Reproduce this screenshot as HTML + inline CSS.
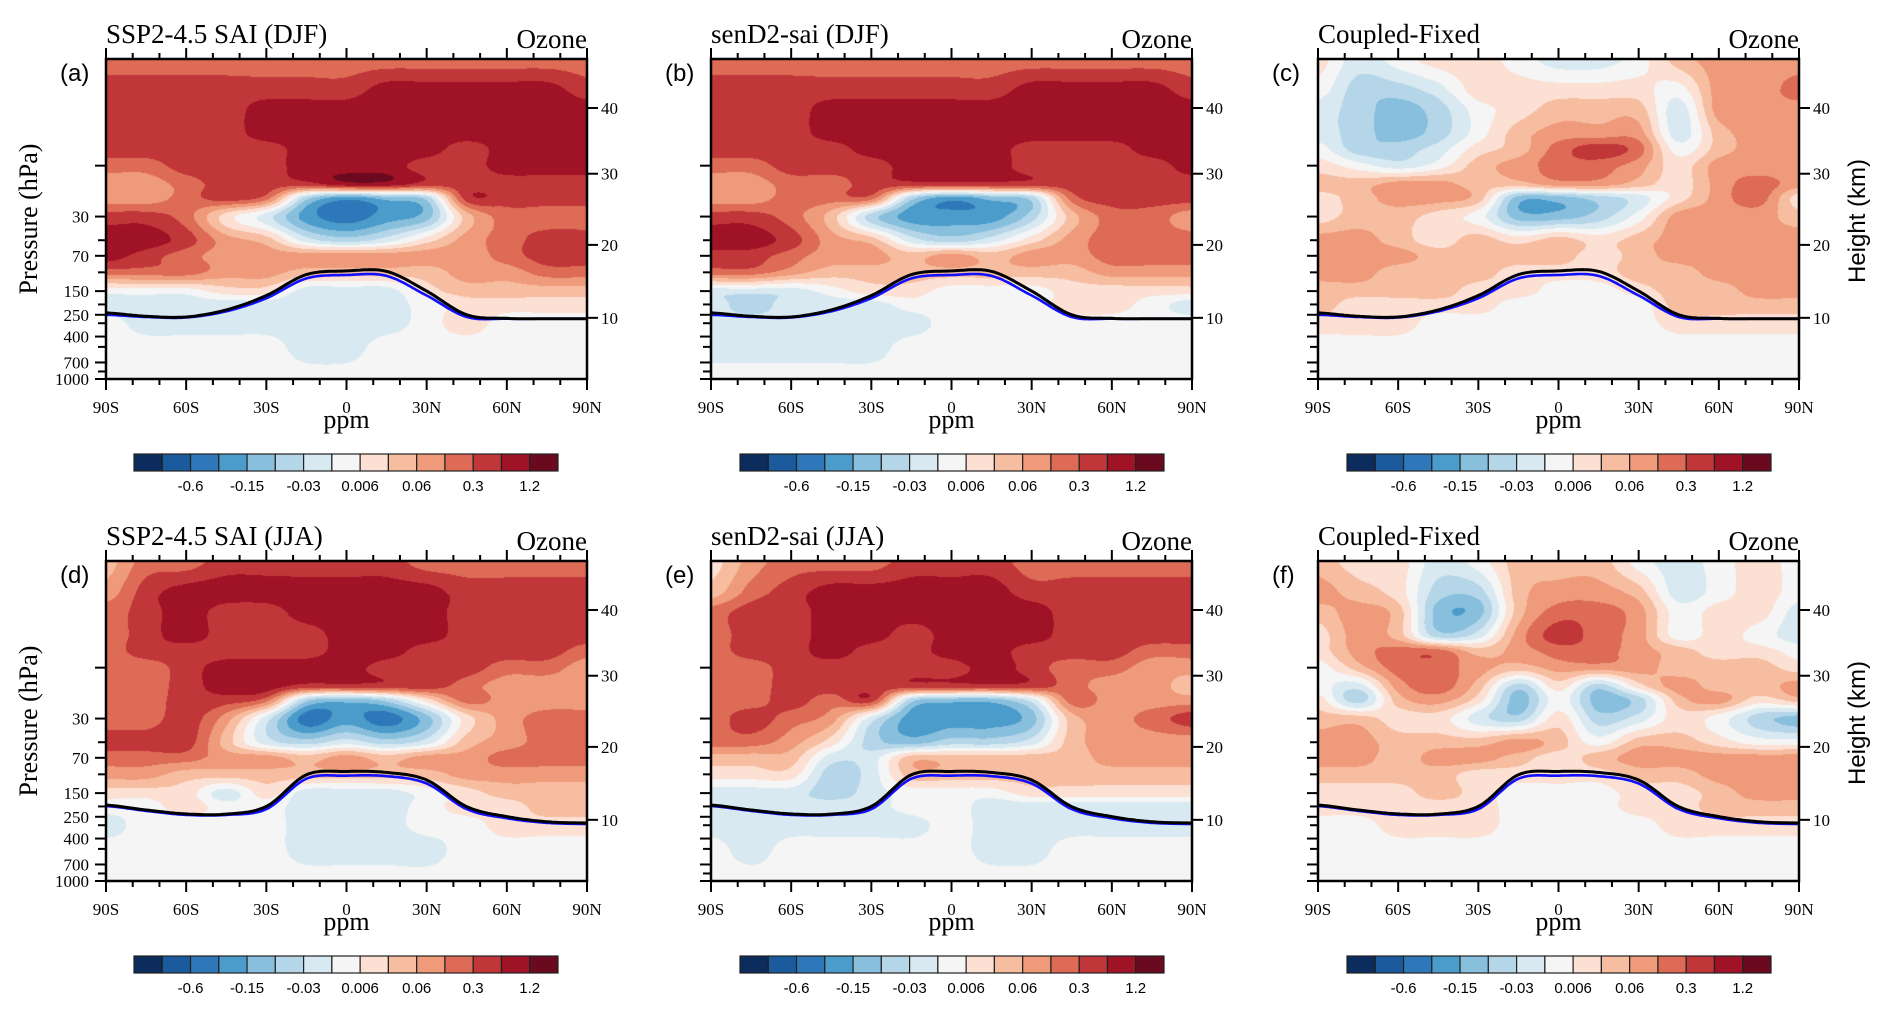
<!DOCTYPE html>
<html><head><meta charset="utf-8">
<style>
html,body{margin:0;padding:0;background:#fff;}
#root{position:relative;width:1892px;height:1011px;overflow:hidden;background:#fff;}
canvas{position:absolute;}
svg{position:absolute;left:0;top:0;}
</style></head>
<body>
<div id="root">
<svg id="ov" width="1892" height="1011"></svg>
</div>
<script>
// ---- data ----
const pressureLevels = [1,2,3,5,7,10,15,20,30,50,70,100,150,200,300,500,1000];
const latitudes = [-90,-75,-60,-45,-30,-15,0,15,30,45,60,75,90];
const levelBounds = [-1.2,-0.6,-0.3,-0.15,-0.06,-0.03,-0.006,0.006,0.03,0.06,0.15,0.3,0.6,1.2];
const cbLabels = ['-0.6','-0.15','-0.03','0.006','0.06','0.3','1.2'];
const xTickLabels = ['90S','60S','30S','0','30N','60N','90N'];
const pTicks = [10,30,50,70,100,150,200,250,300,400,500,700,850,1000];
const pTickLabels = ['30','70','150','250','400','700','1000'];
const kmTicks = ['10','20','30','40'];
const kmTickPressure = [267,55.3,11.9,2.88];
const tropBlackDJF = [240,258,262,225,165,105,97,98,150,250,270,272,272];
const tropBlueDJF  = [250,262,265,232,175,114,106,108,165,262,272,272,272];
const tropBlackJJA = [194,216,235,236,200,101,94,96,113,201,249,278,286];
const tropBlueJJA  = [198,220,240,240,212,110,103,104,122,212,258,285,292];

const ozoneA = [
[.22,.22,.22,.22,.22,.22,.22,.22,.22,.22,.22,.22,.22],
[.45,.45,.45,.45,.45,.45,.45,.9,.9,.9,.9,.9,.45],
[.45,.45,.45,.45,.9,.9,.9,.9,.9,.9,.9,.9,.9],
[.45,.45,.45,.45,.9,.9,.9,.9,.9,.9,.9,.9,.9],
[.45,.45,.45,.45,.45,.9,.9,.9,.9,.45,.9,.9,.9],
[.22,.22,.45,.45,.45,.9,.9,.9,.45,.45,.9,.9,.9],
[.1,.1,.22,.45,.45,.45,.9,.9,.45,.45,.45,.45,.45],
[.1,.1,.22,.45,.22,-.045,-.22,-.1,-.045,.45,.45,.45,.45],
[.45,.45,.22,.018,-.018,-.22,-.45,-.22,-.1,.045,.22,.22,.22],
[.9,.9,.45,.1,.045,-.018,-.045,-.018,.018,.1,.22,.45,.45],
[.9,.45,.22,.1,.1,.1,.1,.1,.1,.1,.22,.45,.45],
[.22,.22,.22,.1,.1,.045,.045,.045,.045,.1,.1,.22,.22],
[0,0,0,.018,.018,-.018,-.018,-.018,.018,.045,.045,.045,.045],
[-.018,-.018,-.018,-.018,-.018,-.018,-.018,-.018,0,.018,.018,.018,.018],
[0,-.018,-.018,-.018,-.018,-.018,-.018,-.018,0,.018,0,0,0],
[0,0,0,0,0,-.018,-.018,0,0,0,0,0,0],
[0,0,0,0,0,0,0,0,0,0,0,0,0]];
const ozoneB = [
[.22,.22,.22,.22,.22,.22,.22,.22,.22,.22,.22,.22,.22],
[.45,.45,.45,.45,.45,.45,.45,.45,.9,.9,.9,.9,.45],
[.45,.45,.45,.9,.9,.9,.9,.9,.9,.9,.9,.9,.9],
[.45,.45,.45,.9,.9,.9,.9,.9,.9,.9,.9,.9,.9],
[.45,.45,.45,.45,.9,.9,.9,.9,.45,.45,.45,.9,.9],
[.22,.22,.45,.45,.45,.9,.9,.9,.45,.45,.45,.45,.9],
[.1,.1,.22,.22,.45,.45,.45,.45,.45,.45,.45,.45,.45],
[.1,.1,.22,.22,.22,-.045,-.22,-.1,-.045,.22,.45,.45,.45],
[.45,.45,.22,.045,-.045,-.22,-.22,-.22,-.045,.045,.22,.22,.1],
[.9,.9,.45,.1,.045,-.018,-.045,-.018,.018,.1,.22,.22,.22],
[.45,.45,.22,.1,.1,.045,.1,.045,.1,.1,.22,.22,.22],
[.22,.22,.1,.045,.045,.045,.045,.045,.045,.045,.1,.1,.1],
[-.018,-.018,-.018,0,.018,.018,0,0,0,.018,.018,.018,.018],
[-.018,-.045,-.018,-.018,-.018,0,0,0,0,.018,.018,0,-.018],
[-.018,-.018,-.018,-.018,-.018,-.018,0,0,0,0,0,0,0],
[-.018,-.018,-.018,-.018,-.018,0,0,0,0,0,0,0,0],
[0,0,0,0,0,0,0,0,0,0,0,0,0]];
const ozoneC = [
[.018,-.018,0,.018,.018,0,-.018,-.018,0,.045,.1,.1,.1],
[0,-.045,-.045,-.018,.018,.018,.018,.018,.018,0,.1,.1,.22],
[-.018,-.045,-.1,-.045,0,.018,.045,.045,.045,-.018,.1,.1,.1],
[-.018,-.045,-.1,-.045,0,.045,.1,.1,.1,-.018,.045,.1,.1],
[0,-.045,-.045,-.018,.018,.045,.22,.45,.22,0,.045,.1,.1],
[.018,0,-.018,0,.045,.1,.22,.22,.1,.018,.1,.1,.1],
[.045,.045,.1,.1,.045,.045,.1,.1,.045,.018,.1,.22,.1],
[.018,.045,.1,.1,.045,-.1,-.1,-.045,-.018,.018,.1,.22,.018],
[.018,.045,.045,.018,0,-.1,-.1,-.045,0,.1,.1,.1,.045],
[.1,.1,.045,.018,.045,.018,.045,.018,.045,.1,.1,.1,.1],
[.1,.1,.1,.045,.045,.045,.045,.018,.045,.1,.1,.1,.1],
[.1,.1,.045,.045,.045,.018,.018,.018,.045,.045,.1,.1,.1],
[.045,.045,.045,.045,.018,.018,0,0,.018,.045,.045,.1,.1],
[.045,.018,.018,.018,.018,0,0,0,0,.045,.045,.045,.045],
[.018,.018,.018,0,0,0,0,0,0,.018,.018,.018,.018],
[0,0,0,0,0,0,0,0,0,0,0,0,0],
[0,0,0,0,0,0,0,0,0,0,0,0,0]];
const ozoneD = [
[.045,.22,.22,.45,.45,.45,.45,.45,.22,.22,.22,.22,.22],
[.1,.45,.9,.9,.9,.9,.9,.9,.9,.45,.45,.45,.45],
[.22,.45,.9,.45,.45,.9,.9,.9,.9,.45,.45,.45,.45],
[.22,.45,.9,.45,.45,.45,.9,.9,.9,.45,.45,.45,.45],
[.22,.45,.45,.45,.45,.45,.9,.9,.45,.45,.45,.45,.22],
[.22,.22,.45,.9,.9,.9,.9,.45,.45,.45,.22,.22,.1],
[.22,.22,.45,.9,.9,.45,.45,.45,.45,.22,.1,.1,.1],
[.22,.22,.45,.45,.22,-.045,-.1,-.045,.018,.22,.1,.1,.1],
[.22,.22,.45,.1,-.018,-.45,-.22,-.45,-.1,.018,.1,.22,.22],
[.45,.45,.45,.045,-.018,-.045,-.018,-.045,-.018,.045,.1,.22,.22],
[.22,.22,.22,.1,.1,.045,.1,.045,.1,.1,.22,.22,.22],
[.1,.1,.045,.045,.045,.045,.045,.045,.045,.1,.1,.1,.1],
[.018,.018,.018,-.018,.018,-.018,-.018,-.018,0,.018,.045,.045,.045],
[0,0,.018,0,0,-.018,-.018,-.018,0,.018,.018,.045,.045],
[-.018,0,0,0,0,-.018,-.018,-.018,0,0,.018,.018,.018],
[0,0,0,0,0,-.018,-.018,-.018,-.018,0,0,0,0],
[0,0,0,0,0,0,0,0,0,0,0,0,0]];
const ozoneE = [
[.018,.1,.22,.22,.22,.45,.45,.45,.22,.22,.22,.22,.22],
[.045,.22,.45,.9,.9,.9,.9,.9,.45,.45,.45,.45,.45],
[.22,.45,.45,.9,.9,.9,.9,.9,.9,.45,.45,.45,.45],
[.22,.45,.45,.9,.9,.45,.9,.9,.9,.45,.45,.45,.45],
[.22,.45,.45,.9,.45,.45,.9,.9,.45,.45,.45,.22,.22],
[.22,.22,.45,.45,.45,.45,.45,.9,.45,.22,.22,.1,.1],
[.22,.22,.45,.45,.45,.45,.45,.45,.45,.22,.1,.1,.045],
[.22,.22,.45,.22,.45,-.045,-.1,-.1,-.018,.22,.1,.1,.1],
[.22,.45,.22,.1,-.018,-.22,-.22,-.22,-.1,.045,.1,.22,.45],
[.22,.22,.1,.018,-.045,-.1,-.045,-.045,-.018,.045,.1,.1,.1],
[.045,.045,.045,-.018,-.018,.045,.045,.045,.045,.045,.1,.1,.1],
[.018,.018,.018,-.045,-.018,.045,.045,.045,.045,.045,.045,.045,.045],
[-.018,-.018,-.018,-.045,-.018,0,0,0,.018,.018,.018,.018,.018],
[-.018,-.018,-.018,-.018,-.018,0,0,-.018,-.018,-.018,-.018,-.018,-.018],
[-.018,-.018,-.018,-.018,-.018,-.018,0,-.018,-.018,-.018,-.018,-.018,-.018],
[0,-.018,0,0,0,0,0,-.018,-.018,0,0,0,0],
[0,0,0,0,0,0,0,0,0,0,0,0,0]];
const ozoneF = [
[.045,.018,.018,-.018,0,.045,.045,.045,0,-.018,0,.018,0],
[.1,.045,.018,-.045,-.045,.045,.1,.1,.045,-.018,0,.018,0],
[.045,.1,.045,-.1,-.1,.045,.22,.22,.1,0,.018,.018,-.018],
[.018,.1,.045,-.045,-.018,.1,.45,.22,.1,0,.018,0,-.018],
[.018,.1,.22,.22,.045,.1,.22,.22,.1,.045,.018,.018,0],
[0,.045,.22,.22,.1,.045,.1,.1,.1,.045,.045,.045,.018],
[0,-.018,.1,.22,.045,-.045,.018,-.045,.018,.1,.045,.045,.1],
[.018,-.045,.045,.1,.018,-.1,0,-.1,-.045,.045,.1,.018,.045],
[.045,.045,.018,.018,-.018,-.045,.018,-.045,-.018,.018,0,-.045,-.1],
[.1,.1,.045,.045,.045,.1,.045,0,.045,.045,.018,0,0],
[.1,.1,.045,.1,.1,.045,.018,.045,.1,.1,.1,.1,.1],
[.045,.045,.045,.045,.018,.018,.018,.018,.045,.045,.1,.1,.1],
[.018,.018,.018,.045,.018,0,0,0,.018,.018,.045,.1,.1],
[.018,.018,.018,.018,.018,0,0,0,.018,.018,.045,.045,.045],
[0,0,.018,.018,.018,0,0,0,0,.018,.018,.018,.018],
[0,0,0,0,0,0,0,0,0,0,0,0,0],
[0,0,0,0,0,0,0,0,0,0,0,0,0]];

const palette = ['#0b2c5c','#1c5a9e','#2e77b9','#4b9bcb','#88bfdd','#b5d6e8','#d8e9f1','#f5f5f5','#fce0d3','#f7bda1','#ef9a7a','#dd6b56','#c13639','#a01226','#6b0a1f'];

const W = 481, H = 320;
const panels = [
 {x:106,y:59,title:'SSP2-4.5 SAI (DJF)',tag:'(a)',data:ozoneA,tb:tropBlackDJF,tu:tropBlueDJF,left:true,right:false,cbx:134,cby:454},
 {x:711,y:59,title:'senD2-sai (DJF)',tag:'(b)',data:ozoneB,tb:tropBlackDJF,tu:tropBlueDJF,left:false,right:false,cbx:740,cby:454},
 {x:1318,y:59,title:'Coupled-Fixed',tag:'(c)',data:ozoneC,tb:tropBlackDJF,tu:tropBlueDJF,left:false,right:true,cbx:1347,cby:454},
 {x:106,y:561,title:'SSP2-4.5 SAI (JJA)',tag:'(d)',data:ozoneD,tb:tropBlackJJA,tu:tropBlueJJA,left:true,right:false,cbx:134,cby:956},
 {x:711,y:561,title:'senD2-sai (JJA)',tag:'(e)',data:ozoneE,tb:tropBlackJJA,tu:tropBlueJJA,left:false,right:false,cbx:740,cby:956},
 {x:1318,y:561,title:'Coupled-Fixed',tag:'(f)',data:ozoneF,tb:tropBlackJJA,tu:tropBlueJJA,left:false,right:true,cbx:1347,cby:956}
];

// ---- scales ----
const LN = Math.log(1000);
function yOfP(p){ return H * (1 - Math.log(1000/p)/LN); }
function xOfLat(l){ return (l+90)/180*W; }
function toT(v){
  if(v<=levelBounds[0]) return Math.max(0, 1+(v-levelBounds[0])/1.2);
  for(let i=0;i<levelBounds.length-1;i++){
    if(v<levelBounds[i+1]) return i+1+(v-levelBounds[i])/(levelBounds[i+1]-levelBounds[i]);
  }
  return Math.min(14.999, 14+(v-1.2)/1.2);
}
function cr(p0,p1,p2,p3,t){
  return p1 + 0.5*t*(p2-p0 + t*(2*p0-5*p1+4*p2-p3 + t*(3*(p1-p2)+p3-p0)));
}
function hexRgb(h){return [parseInt(h.substr(1,2),16),parseInt(h.substr(3,2),16),parseInt(h.substr(5,2),16)];}
const pal = palette.map(hexRgb);
const NS='http://www.w3.org/2000/svg';
const svg=document.getElementById('ov');
function el(tag,attrs,parent){const e=document.createElementNS(NS,tag);for(const k in attrs)e.setAttribute(k,attrs[k]);(parent||svg).appendChild(e);return e;}
function txt(s,attrs,parent){const e=el('text',attrs,parent);e.textContent=s;return e;}

const lnP = pressureLevels.map(p=>Math.log(p));
function rowIndex(p){
  const l=Math.log(p);
  for(let i=0;i<lnP.length-1;i++){ if(l<=lnP[i+1]) return i+(l-lnP[i])/(lnP[i+1]-lnP[i]); }
  return lnP.length-1;
}

panels.forEach((pn,pi)=>{
  const letter = pn.tag[1];
  const cv=document.createElement('canvas');
  cv.width=W;cv.height=H;cv.style.left=pn.x+'px';cv.style.top=pn.y+'px';
  
  
  document.getElementById('root').insertBefore(cv,svg);
  const ctx=cv.getContext('2d');const img=ctx.createImageData(W,H);
  const T=pn.data.map(r=>r.map(toT));
  const nr=T.length,nc=T[0].length;
  const g=(r,c)=>T[Math.max(0,Math.min(nr-1,r))][Math.max(0,Math.min(nc-1,c))];
  for(let py=0;py<H;py++){
    const p=1000*Math.exp(-(H-py-0.5)/H*LN);
    const ri=rowIndex(p);const r0=Math.floor(ri);const fr=ri-r0;
    for(let px=0;px<W;px++){
      const lat=-90+(px+0.5)/W*180;
      const ci=(lat+90)/15;const c0=Math.floor(ci);const fc=ci-c0;
      const cols=[];
      for(let k=-1;k<=2;k++) cols.push(cr(g(r0-1,c0+k),g(r0,c0+k),g(r0+1,c0+k),g(r0+2,c0+k),fr));
      let t=cr(cols[0],cols[1],cols[2],cols[3],fc);
      let ci2=Math.max(0,Math.min(14,Math.floor(t)));
      const col=pal[ci2];const o=(py*W+px)*4;
      img.data[o]=col[0];img.data[o+1]=col[1];img.data[o+2]=col[2];img.data[o+3]=255;
    }
  }
  ctx.putImageData(img,0,0);

  const G=el('g',{transform:`translate(${pn.x},${pn.y})`});
  
  
  [[pn.tu,'#1010ff',2.6,'tropopause-blue-'],[pn.tb,'#000',3,'tropopause-black-']].forEach(([arr,color,w,nm])=>{
    let d='';
    for(let s=0;s<=180;s++){
      const lat=-90+s; const ci=(lat+90)/15; const c0=Math.min(11,Math.floor(ci)); const f=ci-c0;
      const q=k=>Math.log(arr[Math.max(0,Math.min(12,k))]);
      const lp=cr(q(c0-1),q(c0),q(c0+1),q(c0+2),f);
      d+=(s?'L':'M')+xOfLat(lat).toFixed(1)+' '+yOfP(Math.exp(lp)).toFixed(1);
    }
    const pth=el('path',{d:d,fill:'none',stroke:color,'stroke-width':w},G);
    
    
  });
  const fr=el('rect',{x:0,y:0,width:W,height:H,fill:'none',stroke:'#000','stroke-width':2.5},G);
  
  
  for(let lat=-90;lat<=90;lat+=10){
    const x=xOfLat(lat);const major=lat%30===0;const L=major?11:6;
    el('line',{x1:x,y1:0,x2:x,y2:-L,stroke:'#000','stroke-width':2},G);
    el('line',{x1:x,y1:H,x2:x,y2:H+L,stroke:'#000','stroke-width':2},G);
  }
  xTickLabels.forEach((s,i)=>{
    const t=txt(s,{x:xOfLat(-90+30*i),y:H+34,'text-anchor':'middle','font-family':'Liberation Serif, serif','font-size':17},G);
    
    
  });
  const xl=txt('ppm',{x:W/2,y:H+49,'text-anchor':'middle','font-family':'Liberation Serif, serif','font-size':26},G);
  
  
  pTicks.forEach(p=>{
    const y=yOfP(p);const lab=pTickLabels.indexOf(String(p))>=0||p===10;
    el('line',{x1:0,y1:y,x2:lab?-11:-8,y2:y,stroke:'#000','stroke-width':2},G);
  });
  if(pn.left){
    pTickLabels.forEach(s=>{
      const t=txt(s,{x:-17,y:yOfP(+s)+6,'text-anchor':'end','font-family':'Liberation Serif, serif','font-size':17},G);
      
      
    });
    const yl=txt('Pressure (hPa)',{x:0,y:0,transform:`translate(-69,${H/2}) rotate(-90)`,'text-anchor':'middle','font-family':'Liberation Serif, serif','font-size':26},G);
    
    
  }
  kmTicks.forEach((s,i)=>{
    const y=yOfP(kmTickPressure[i]);
    el('line',{x1:W,y1:y,x2:W+11,y2:y,stroke:'#000','stroke-width':2},G);
    const t=txt(s,{x:W+14,y:y+6,'font-family':'Liberation Serif, serif','font-size':17},G);
    
    
  });
  if(pn.right){
    const yr=txt('Height (km)',{x:0,y:0,transform:`translate(${W+66},${H/2+2}) rotate(-90)`,'text-anchor':'middle','font-family':'Liberation Sans, sans-serif','font-size':24},G);
    
    
  }
  const tt=txt(pn.title,{x:0,y:-16,'font-family':'Liberation Serif, serif','font-size':27},G);
  
  
  const oz=txt('Ozone',{x:W,y:-11,'text-anchor':'end','font-family':'Liberation Serif, serif','font-size':27},G);
  
  
  const tg=txt(pn.tag,{x:-46,y:22,'font-family':'Liberation Sans, sans-serif','font-size':24},G);
  
  

  const CB=el('g',{transform:`translate(${pn.cbx},${pn.cby})`});
  
  
  const bw=424/15;
  palette.forEach((c,i)=>{
    const r=el('rect',{x:i*bw,y:0,width:bw,height:17,fill:c,stroke:'#222','stroke-width':1.2},CB);
    
    
  });
  cbLabels.forEach((s,i)=>{
    const t=txt(s,{x:(2*i+2)*bw,y:37,'text-anchor':'middle','font-family':'Liberation Sans, sans-serif','font-size':15},CB);
    
    
  });
});
</script>
</body></html>
